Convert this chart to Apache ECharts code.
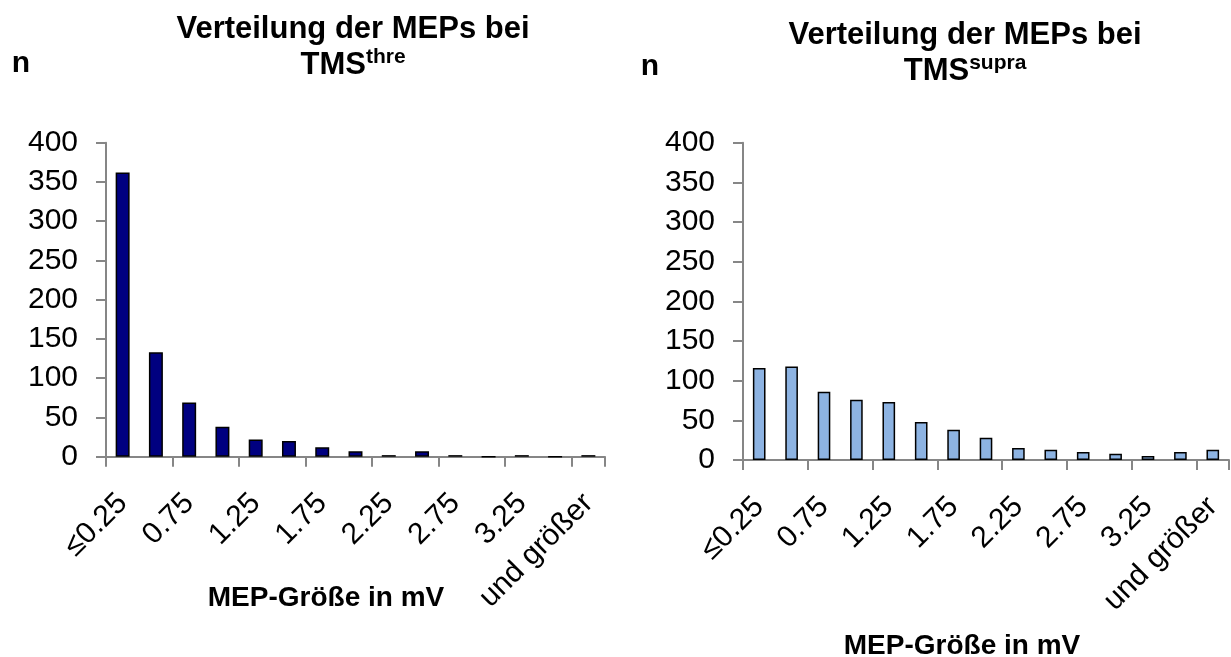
<!DOCTYPE html>
<html>
<head>
<meta charset="utf-8">
<script src="https://cdn.jsdelivr.net/npm/echarts@6/dist/echarts.min.js"></script>
<style>
html,body{margin:0;padding:0;background:#fff;}
#chart{width:1231px;height:657px;}
</style>
</head>
<body>
<div id="chart"></div>
<script>
const categories = ['≤0.25','0.5','0.75','1','1.25','1.5','1.75','2','2.25','2.5','2.75','3','3.25','3.5','und größer'];
const thre = [362,133,69,38,22,20,12,7,2,7,2,0,2,0,2];
const supra = [116,118,86,76,73,48,38,28,15,13,10,8,5,10,13];
const yMin = 0, yMax = 400, yInterval = 50;

const FONT = '"Liberation Sans", Arial, sans-serif';
const axisGray = '#868686';

function makeX(gridIndex) {
  return {
    type: 'category', gridIndex: gridIndex, data: categories, boundaryGap: true,
    axisLine: {show: true, lineStyle: {color: axisGray, width: 2}},
    axisTick: {show: true, length: 10, lineStyle: {color: axisGray, width: 2}},
    axisLabel: {interval: 1, rotate: 45, margin: 42, fontSize: 30, fontFamily: FONT, color: '#000'},
    splitLine: {show: false}
  };
}
function makeY(gridIndex) {
  return {
    type: 'value', gridIndex: gridIndex, min: yMin, max: yMax, interval: yInterval,
    axisLine: {show: true, lineStyle: {color: axisGray, width: 2}},
    axisTick: {show: true, length: 10, lineStyle: {color: axisGray, width: 2}},
    axisLabel: {margin: 28, fontSize: 30, fontFamily: FONT, color: '#000'},
    splitLine: {show: false}
  };
}

const chart = echarts.init(document.getElementById('chart'), null, {renderer: 'canvas'});
const titleRich = {
  a: {fontSize: 31, fontWeight: 'bold', fontFamily: FONT, color: '#000', lineHeight: 36},
  s: {fontSize: 21, fontWeight: 'bold', fontFamily: FONT, color: '#000', verticalAlign: 'top', lineHeight: 36, padding: [0,0,10,0]}
};
chart.setOption({
  animation: false,
  backgroundColor: '#fff',
  grid: [
    {left: 106, top: 142.7, width: 499, height: 314, containLabel: false},
    {left: 743, top: 142.7, width: 486, height: 317.3, containLabel: false}
  ],
  xAxis: [makeX(0), makeX(1)],
  yAxis: [makeY(0), makeY(1)],
  series: [
    {type: 'bar', xAxisIndex: 0, yAxisIndex: 0, data: thre, barWidth: '42%',
     itemStyle: {color: '#000080', borderColor: '#000', borderWidth: 1.5}},
    {type: 'bar', xAxisIndex: 1, yAxisIndex: 1, data: supra, barWidth: '39%',
     itemStyle: {color: '#8DB3E2', borderColor: '#000', borderWidth: 1.5}}
  ],
  graphic: [
    {type: 'text', x: 353, y: 47, style: {text: '{a|Verteilung der MEPs bei}\n{a|TMS}{s|thre}', rich: titleRich, align: 'center', verticalAlign: 'middle'}},
    {type: 'text', x: 965, y: 53, style: {text: '{a|Verteilung der MEPs bei}\n{a|TMS}{s|supra}', rich: titleRich, align: 'center', verticalAlign: 'middle'}},
    {type: 'text', x: 21, y: 64, style: {text: 'n', font: 'bold 30px ' + FONT, fill: '#000', align: 'center', verticalAlign: 'middle'}},
    {type: 'text', x: 650, y: 67, style: {text: 'n', font: 'bold 30px ' + FONT, fill: '#000', align: 'center', verticalAlign: 'middle'}},
    {type: 'text', x: 326, y: 598, style: {text: 'MEP-Größe in mV', font: 'bold 28px ' + FONT, fill: '#000', align: 'center', verticalAlign: 'middle'}},
    {type: 'text', x: 962, y: 646, style: {text: 'MEP-Größe in mV', font: 'bold 28px ' + FONT, fill: '#000', align: 'center', verticalAlign: 'middle'}}
  ]
});
</script>
</body>
</html>
